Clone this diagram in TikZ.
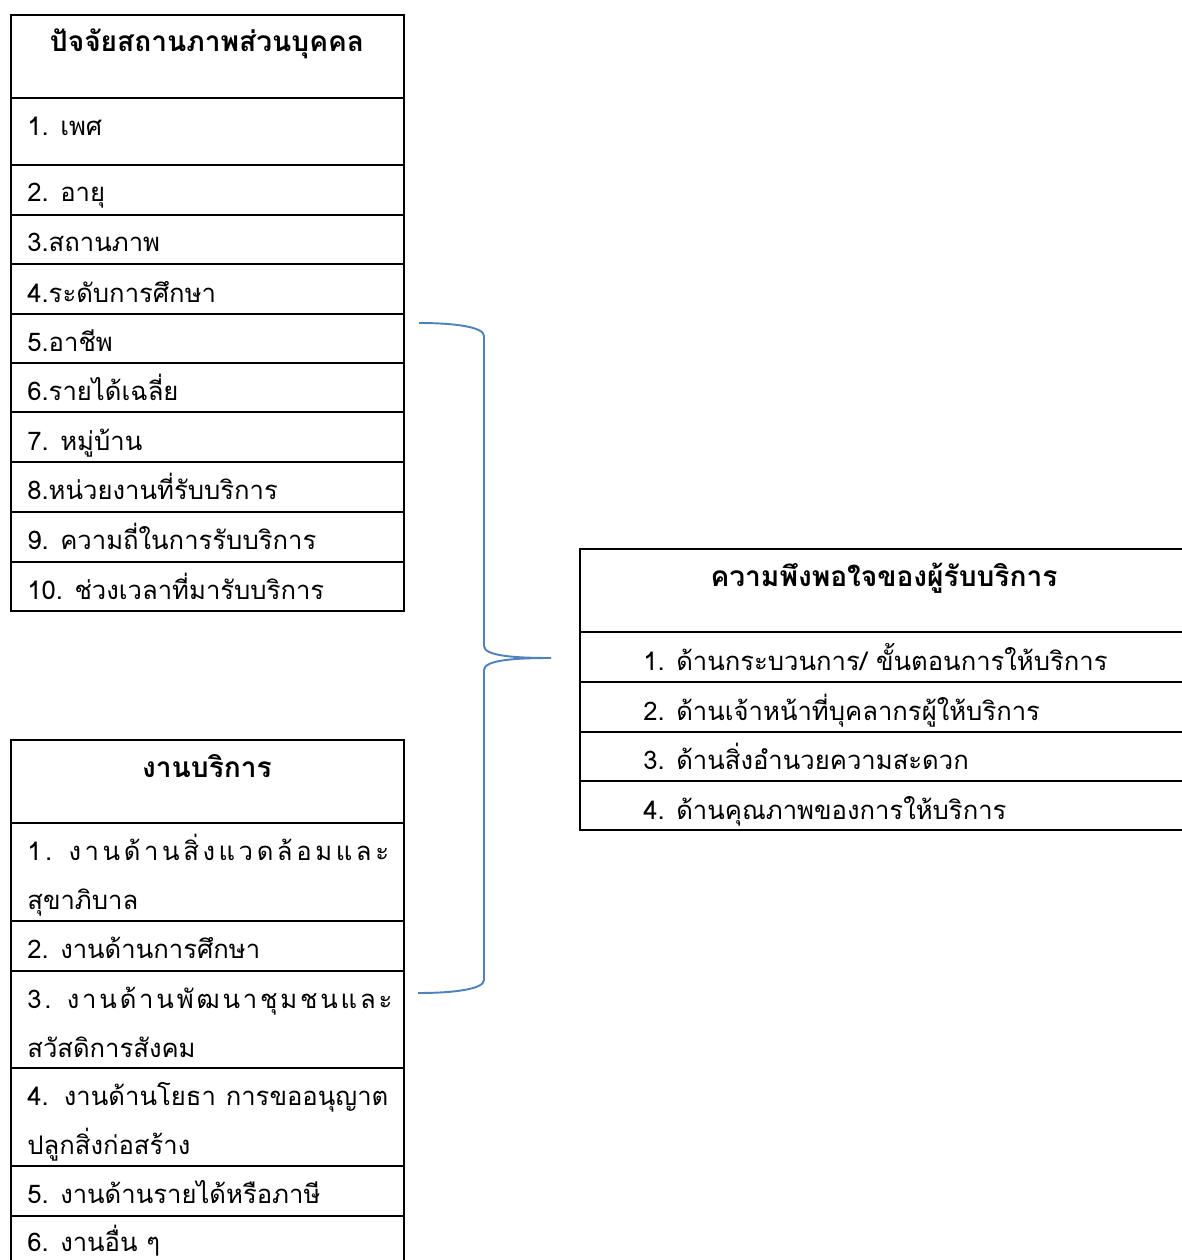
\documentclass[tikz,border=0pt]{standalone}
\usepackage{fontspec}
\newfontfamily\thaifont[Script=Thai]{Loma}
\usetikzlibrary{positioning}
\definecolor{ink}{HTML}{000000}
\definecolor{braceblue}{HTML}{4F81BD}
\tikzset{
  rule/.style={draw=ink,line width=1.1pt},
  headtext/.style={font=\thaifont\bfseries\fontsize{16}{18}\selectfont,color=ink,inner sep=0pt,anchor=base},
  itemtext/.style={font=\thaifont\fontsize{14.6}{17}\selectfont,color=ink,inner sep=0pt,anchor=base west},
  spread/.style={font=\thaifont\fontsize{14.6}{17}\selectfont\addfontfeature{LetterSpace=#1}},
  brace/.style={draw=braceblue,line width=1.1pt}
}
\begin{document}
\begin{tikzpicture}[x=0.02cm,y=-0.02cm]
        \useasboundingbox (0,0) rectangle (1181,1260);
        % personal factors table
        \draw[rule] (11,15) rectangle (404,611);
        \draw[rule] (11,98) -- (404,98) (11,165) -- (404,165) (11,215) -- (404,215)
          (11,264) -- (404,264) (11,314) -- (404,314) (11,363) -- (404,363)
          (11,412) -- (404,412) (11,462) -- (404,462) (11,512) -- (404,512) (11,562) -- (404,562);
        \node[headtext] (hdPersonal) at (207,52) {ปัจจัยสถานภาพส่วนบุคคล};
        \node[itemtext] (p1) at (27,136) {1. เพศ};
        \node[itemtext] (p2) at (27,202) {2. อายุ};
        \node[itemtext] (p3) at (27,252) {3.สถานภาพ};
        \node[itemtext] (p4) at (27,302) {4.ระดับการศึกษา};
        \node[itemtext] (p5) at (27,351) {5.อาชีพ};
        \node[itemtext] (p6) at (27,400) {6.รายได้เฉลี่ย};
        \node[itemtext] (p7) at (27,450) {7. หมู่บ้าน};
        \node[itemtext] (p8) at (27,499) {8.หน่วยงานที่รับบริการ};
        \node[itemtext] (p9) at (27,549) {9. ความถี่ในการรับบริการ};
        \node[itemtext] (p10) at (27,599) {10. ช่วงเวลาที่มารับบริการ};
        % service work table
        \draw[rule] (11,1275) -- (11,740) -- (404,740) -- (404,1275);
        \draw[rule] (11,823) -- (404,823) (11,921) -- (404,921) (11,971) -- (404,971)
          (11,1068) -- (404,1068) (11,1166) -- (404,1166) (11,1216) -- (404,1216);
        \node[headtext] (hdService) at (207,777) {งานบริการ};
        \node[itemtext,spread=14] (s1a) at (27,860) {1. งานด้านสิ่งแวดล้อมและ};
        \node[itemtext] (s1b) at (27,909) {สุขาภิบาล};
        \node[itemtext] (s2) at (27,958) {2. งานด้านการศึกษา};
        \node[itemtext,spread=11] (s3a) at (27,1008) {3. งานด้านพัฒนาชุมชนและ};
        \node[itemtext] (s3b) at (27,1057) {สวัสดิการสังคม};
        \node[itemtext] (s4a) at (27,1105) {\makebox[7.22cm][s]{4. งานด้านโยธา การขออนุญาต}};
        \node[itemtext] (s4b) at (27,1154) {ปลูกสิ่งก่อสร้าง};
        \node[itemtext] (s5) at (27,1203) {5. งานด้านรายได้หรือภาษี};
        \node[itemtext] (s6) at (27,1251) {6. งานอื่น ๆ};
        % satisfaction table
        \draw[rule] (1195,549) -- (580,549) -- (580,830) -- (1195,830);
        \draw[rule] (580,632) -- (1195,632) (580,682) -- (1195,682) (580,732) -- (1195,732) (580,781) -- (1195,781);
        \node[headtext] (hdSatisfy) at (884,586) {ความพึงพอใจของผู้รับบริการ};
        \node[itemtext] (f1) at (643,670) {1. ด้านกระบวนการ/ ขั้นตอนการให้บริการ};
        \node[itemtext] (f2) at (643,720) {2. ด้านเจ้าหน้าที่บุคลากรผู้ให้บริการ};
        \node[itemtext] (f3) at (643,769) {3. ด้านสิ่งอำนวยความสะดวก};
        \node[itemtext] (f4) at (643,819) {4. ด้านคุณภาพของการให้บริการ};
        % brace
        \coordinate (braceTop) at (419,323);
        \coordinate (braceTip) at (551,658);
        \coordinate (braceBot) at (418,993);
        \draw[brace] (braceTop) .. controls (455,323) and (484,327) .. (484,336) -- (484,646)
          .. controls (484,656) and (515,658) .. (braceTip)
          .. controls (515,658) and (484,660) .. (484,670) -- (484,980)
          .. controls (484,989) and (455,993) .. (braceBot);
\end{tikzpicture}
\end{document}
